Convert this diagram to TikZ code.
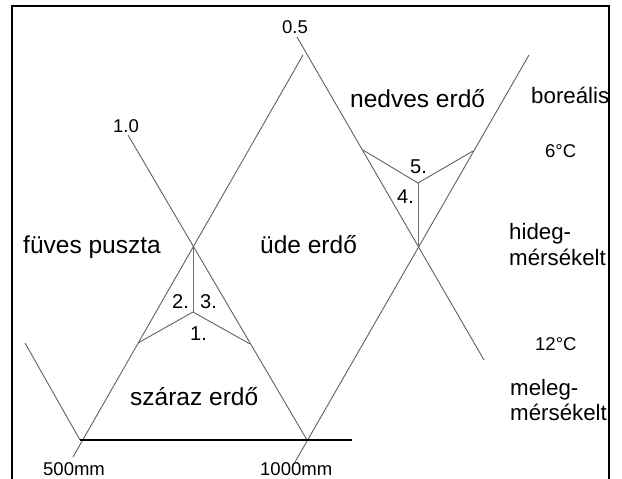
\documentclass[tikz,border=0pt]{standalone}
\usepackage{fontspec}
\setmainfont{Liberation Sans}
\begin{document}
\begin{tikzpicture}[x=1pt,y=-1pt,
  ln/.style={draw=black!62,line width=0.9pt},
  vln/.style={draw=black!55,line width=1pt},
  base/.style={draw=black,line width=1.6pt},
  frame/.style={draw=black,line width=1.3pt},
  big/.style={inner sep=0pt,anchor=base west,text=black,font=\fontsize{24.5}{28}\selectfont},
  side/.style={inner sep=0pt,anchor=base west,text=black,font=\fontsize{22.3}{26}\selectfont},
  mid/.style={inner sep=0pt,anchor=base west,text=black,font=\fontsize{20}{24}\selectfont},
  sml/.style={inner sep=0pt,anchor=base west,text=black,font=\fontsize{18.5}{22}\selectfont}]
\useasboundingbox (0,0) rectangle (622,479);
% frame
\coordinate (fbl) at (12,479);
\coordinate (ftl) at (12,6);
\coordinate (ftr) at (609,6);
\coordinate (fbr) at (609,479);
\draw[frame] (fbl) -- (ftl) -- (ftr) -- (fbr);
% points
\coordinate (p500) at (80,440);
\coordinate (p1000) at (307,440);
\coordinate (aEnd) at (73,457);
\coordinate (peak) at (303,55);
\coordinate (l0) at (25,343);
\coordinate (bTop) at (297,37);
\coordinate (bEnd) at (484,360);
\coordinate (dTop) at (128,135);
\coordinate (cEnd) at (295,462);
\coordinate (cTop) at (529,55);
\coordinate (x1) at (193,247);
\coordinate (m1) at (193,312);
\coordinate (q1) at (138,343);
\coordinate (r1) at (250,344);
\coordinate (x2) at (418,247);
\coordinate (m2) at (418,183);
\coordinate (q2) at (363,150);
\coordinate (r2) at (473,151);
\coordinate (baseEnd) at (352,440);
% lines
\draw[ln] (aEnd) -- (peak);
\draw[ln] (l0) -- (p500);
\draw[ln] (bTop) -- (bEnd);
\draw[ln] (dTop) -- (p1000);
\draw[ln] (cEnd) -- (cTop);
\draw[vln] (x1) -- (m1);
\draw[ln] (q1) -- (m1) -- (r1);
\draw[vln] (x2) -- (m2);
\draw[ln] (q2) -- (m2) -- (r2);
\draw[base] (p500) -- (baseEnd);
% labels
\node[big] (t1) at (23,253) {füves puszta};
\node[big] (t2) at (260,253) {üde erdő};
\node[big] (t3) at (350,107) {nedves erdő};
\node[big] (t4) at (130,405) {száraz erdő};
\node[side] (t5) at (531,103) {boreális};
\node[side] (t6) at (509,239) {hideg-};
\node[side] (t7) at (509,265) {mérsékelt};
\node[side] (t8) at (510,395) {meleg-};
\node[side] (t9) at (510,420) {mérsékelt};
\node[sml] (c6) at (545,157) {6°C};
\node[sml] (c12) at (535,350) {12°C};
\node[sml] (v500) at (43,475) {500mm};
\node[sml] (v1000) at (260,475) {1000mm};
\node[sml] (v05) at (282,33) {0.5};
\node[sml] (v10) at (113,132) {1.0};
\node[mid] (n2) at (172,308) {2.};
\node[mid] (n3) at (200,308) {3.};
\node[mid] (n1) at (190,340) {1.};
\node[mid] (n5) at (410,173) {5.};
\node[mid] (n4) at (397,203) {4.};
\end{tikzpicture}
\end{document}
